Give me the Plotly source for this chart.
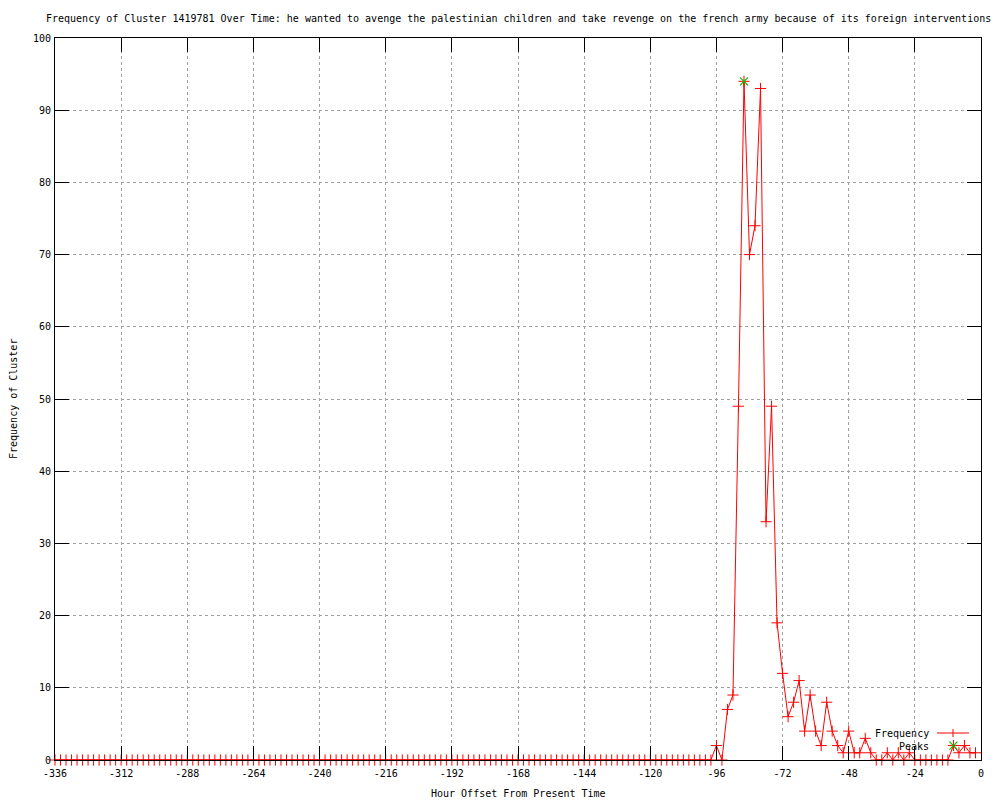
import plotly.graph_objects as go

# ---- data ----
hours = list(range(-336, 0, 2))  # -336 .. -2, every 2 hours
frequency = [
    0, 0, 0, 0, 0, 0, 0, 0, 0, 0, 0, 0, 0, 0, 0, 0, 0, 0, 0, 0,   # -336 .. -298
    0, 0, 0, 0, 0, 0, 0, 0, 0, 0, 0, 0, 0, 0, 0, 0, 0, 0, 0, 0,   # -296 .. -258
    0, 0, 0, 0, 0, 0, 0, 0, 0, 0, 0, 0, 0, 0, 0, 0, 0, 0, 0, 0,   # -256 .. -218
    0, 0, 0, 0, 0, 0, 0, 0, 0, 0, 0, 0, 0, 0, 0, 0, 0, 0, 0, 0,   # -216 .. -178
    0, 0, 0, 0, 0, 0, 0, 0, 0, 0, 0, 0, 0, 0, 0, 0, 0, 0, 0, 0,   # -176 .. -138
    0, 0, 0, 0, 0, 0, 0, 0, 0, 0, 0, 0, 0, 0, 0, 0, 0, 0, 0, 0,   # -136 .. -98
    2, 0, 7, 9, 49, 94, 70, 74, 93, 33,                           # -96 .. -78
    49, 19, 12, 6, 8, 11, 4, 9, 4, 2,                             # -76 .. -58
    8, 4, 2, 1, 4, 1, 1, 3, 1, 0,                                 # -56 .. -38
    0, 1, 0, 1, 0, 1, 0, 0, 0, 0,                                 # -36 .. -18
    0, 0, 0, 2, 1, 2, 1, 1,                                       # -16 .. -2
]
peak_hours = [-86, -10]
peak_values = [94, 2]

x_ticks = [-336, -312, -288, -264, -240, -216, -192, -168, -144, -120, -96, -72, -48, -24, 0]
x_tick_labels = [str(v) for v in x_ticks]
y_ticks = [0, 10, 20, 30, 40, 50, 60, 70, 80, 90, 100]

title = ("Frequency of Cluster 1419781 Over Time: he wanted to avenge the palestinian "
         "children and take revenge on the french army because of its foreign interventions")

FONT = "DejaVu Sans Mono"
OFF = 8  # page body margin offset
W, H = 1000 - OFF, 800 - OFF
L, R, T, B = 55 - OFF, 19, 38 - OFF, 40
PW, PH = W - L - R, H - T - B


def px(xp):
    # xp in screen pixels
    return (xp - OFF - L) / PW


def py(yp):
    return (H - B - (yp - OFF)) / PH


fig = go.Figure()
fig.add_trace(go.Scatter(
    x=hours, y=frequency, mode="lines+markers", name="Frequency",
    line=dict(color="#ff0000", width=1),
    marker=dict(symbol="cross-thin-open", size=8, color="#ff0000",
                line=dict(color="#ff0000", width=1)),
    showlegend=False, cliponaxis=False,
))
fig.add_trace(go.Scatter(
    x=peak_hours, y=peak_values, mode="markers", name="Peaks",
    marker=dict(symbol="x-thin-open", size=8, color="#00c000",
                line=dict(color="#00c000", width=1.2)),
    showlegend=False, cliponaxis=False,
))

axis_common = dict(
    showline=True, linecolor="black", linewidth=1, mirror="ticks",
    ticks="inside", ticklen=14, tickcolor="black", tickwidth=1,
    showgrid=True, gridcolor="#a0a0a0", griddash="dot", gridwidth=1,
    zeroline=False, tickfont=dict(family=FONT, size=10, color="black"),
)

fig.update_xaxes(range=[-336, 0], tickvals=x_ticks, ticktext=x_tick_labels,
                 ticklabelstandoff=4, **axis_common)
fig.update_yaxes(range=[0, 100], tickvals=y_ticks, ticklabelstandoff=1, **axis_common)

annotations = [
    dict(text=title, xref="paper", yref="paper", x=0.5, y=1, yshift=20,
         xanchor="center", yanchor="middle", showarrow=False,
         font=dict(family=FONT, size=10, color="black")),
    dict(text="Hour Offset From Present Time", xref="paper", yref="paper", x=0.5, y=0,
         yshift=-33, xanchor="center", yanchor="middle", showarrow=False,
         font=dict(family=FONT, size=10, color="black")),
    dict(text="Frequency of Cluster", xref="paper", yref="paper", x=0, y=0.5,
         xshift=-42, xanchor="center", yanchor="middle", textangle=-90, showarrow=False,
         font=dict(family=FONT, size=10, color="black")),
    dict(text="Frequency", xref="paper", yref="paper", x=px(931), y=py(733),
         xanchor="right", yanchor="middle", showarrow=False,
         font=dict(family=FONT, size=10, color="black")),
    dict(text="Peaks", xref="paper", yref="paper", x=px(931), y=py(746),
         xanchor="right", yanchor="middle", showarrow=False,
         font=dict(family=FONT, size=10, color="black")),
]

shapes = [
    dict(type="line", xref="paper", yref="paper", x0=px(937), x1=px(969),
         y0=py(733), y1=py(733), line=dict(color="#ff0000", width=1)),
    dict(type="line", xref="paper", yref="paper", x0=px(953), x1=px(953),
         y0=py(729), y1=py(737), line=dict(color="#ff0000", width=1)),
]

fig.update_layout(
    width=W, height=H,
    margin=dict(l=L, r=R, t=T, b=B, pad=0),
    paper_bgcolor="white", plot_bgcolor="white",
    annotations=annotations, shapes=shapes,
    font=dict(family=FONT, size=10, color="black"),
    showlegend=False,
)

fig.write_html("out.html")
